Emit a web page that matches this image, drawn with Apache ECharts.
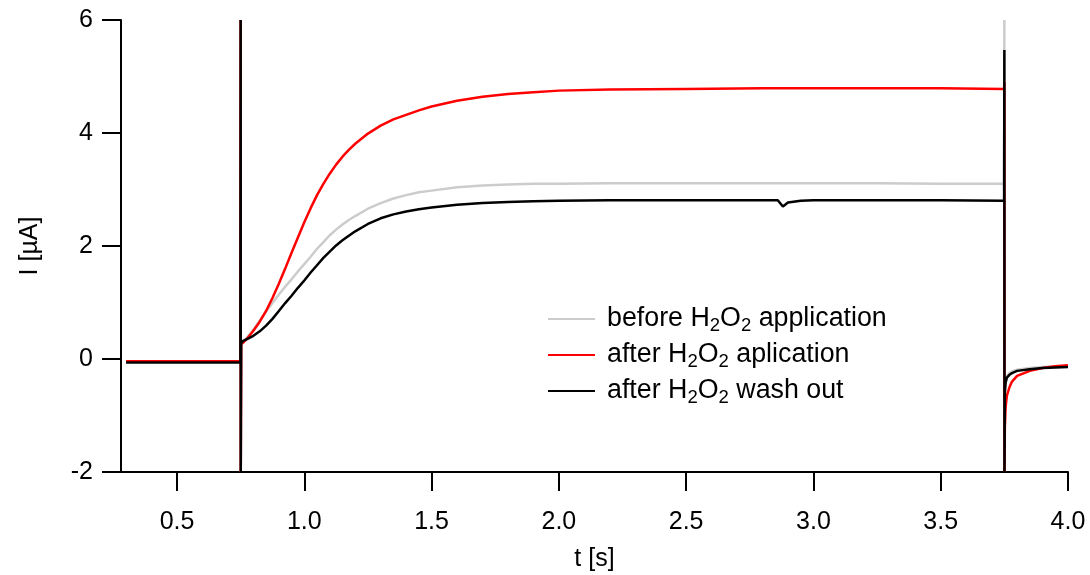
<!DOCTYPE html>
<html>
<head>
<meta charset="utf-8">
<script src="https://cdn.jsdelivr.net/npm/echarts@6/dist/echarts.min.js"></script>
<style>
html,body{margin:0;padding:0;background:#fff;}
#chart{width:1090px;height:575px;}
</style>
</head>
<body>
<div id="chart"></div>
<script>
// time points [s]
var timeS = [0.30, 0.40, 0.50, 0.60, 0.70, 0.749, 0.750, 0.7505, 0.752,
  0.76, 0.775, 0.80, 0.825, 0.85, 0.875, 0.90, 0.925, 0.95, 0.975, 1.00,
  1.025, 1.05, 1.075, 1.10, 1.125, 1.15, 1.175, 1.20,
  1.25, 1.30, 1.35, 1.40, 1.45, 1.50,
  1.60, 1.70, 1.80, 1.90, 2.00,
  2.20, 2.50, 2.80, 2.86, 2.88, 2.90, 2.95, 3.00,
  3.25, 3.50, 3.749, 3.750, 3.7505,
  3.752, 3.755, 3.76, 3.77, 3.78, 3.80,
  3.85, 3.90, 3.95, 4.00];
// current [µA]
var beforeI = [-0.05, -0.05, -0.05, -0.05, -0.05, -0.05, 6.0, -2.0, 0.28,
  0.31, 0.38, 0.52, 0.68, 0.84, 0.99, 1.14, 1.28, 1.41, 1.55, 1.68,
  1.81, 1.95, 2.07, 2.19, 2.29, 2.38, 2.46, 2.53,
  2.66, 2.76, 2.84, 2.90, 2.95, 2.98,
  3.04, 3.07, 3.09, 3.10, 3.10,
  3.11, 3.11, 3.11, 3.11, 3.11, 3.11, 3.11, 3.11,
  3.11, 3.10, 3.10, 6.0, -2.0,
  -0.50, -0.38, -0.30, -0.25, -0.22, -0.19,
  -0.16, -0.14, -0.13, -0.12];
var afterI = [-0.04, -0.04, -0.04, -0.04, -0.04, -0.04, 6.0, -2.0, 0.26,
  0.29, 0.36, 0.50, 0.66, 0.85, 1.08, 1.33, 1.60, 1.88, 2.15, 2.42,
  2.67, 2.90, 3.10, 3.28, 3.44, 3.58, 3.70, 3.81,
  3.99, 4.13, 4.24, 4.32, 4.40, 4.47,
  4.57, 4.64, 4.69, 4.72, 4.75,
  4.77, 4.78, 4.79, 4.79, 4.79, 4.79, 4.79, 4.79,
  4.79, 4.79, 4.78, 4.90, -2.0,
  -1.20, -0.85, -0.65, -0.50, -0.40, -0.30,
  -0.21, -0.16, -0.13, -0.11];
var washI = [-0.06, -0.06, -0.06, -0.06, -0.06, -0.06, 6.0, -2.0, 0.28,
  0.32, 0.35, 0.41, 0.49, 0.59, 0.71, 0.85, 0.99, 1.12, 1.26, 1.39,
  1.53, 1.66, 1.79, 1.90, 2.01, 2.10, 2.18, 2.26,
  2.39, 2.49, 2.56, 2.61, 2.65, 2.68,
  2.73, 2.76, 2.78, 2.79, 2.80,
  2.81, 2.81, 2.81, 2.81, 2.70, 2.77, 2.80, 2.81,
  2.81, 2.81, 2.80, 5.47, -2.0,
  -0.60, -0.42, -0.33, -0.28, -0.25, -0.21,
  -0.18, -0.16, -0.15, -0.14];
var seriesNames = ['before H2O2 application', 'after H2O2 aplication', 'after H2O2 wash out'];
var seriesColors = ['#cccccc', '#ff0000', '#000000'];
var xTicks = [0.5, 1.0, 1.5, 2.0, 2.5, 3.0, 3.5, 4.0];

function pairs(t, v) { return t.map(function (x, i) { return [x, v[i]]; }); }
var allValues = [beforeI, afterI, washI];

var chart = echarts.init(document.getElementById('chart'), null, { renderer: 'canvas' });
var FONT = 'Liberation Sans';
var FS = 25;
var axisCommon = {
  axisLine: { show: true, onZero: false, lineStyle: { color: '#000', width: 2 } },
  axisTick: { show: true, inside: false, length: 19, lineStyle: { color: '#000', width: 2 } },
  splitLine: { show: false },
  nameTextStyle: { fontFamily: FONT, fontSize: FS, color: '#000' }
};

var option = {
  animation: false,
  backgroundColor: '#ffffff',
  grid: { left: 121, right: 22, top: 20, bottom: 103, containLabel: false, outerBoundsMode: 'none' },
  legend: {
    orient: 'vertical',
    left: 543,
    top: 298,
    icon: 'rect',
    itemWidth: 47,
    itemHeight: 2,
    itemGap: 4,
    selectedMode: false,
    data: seriesNames,
    formatter: function (name) {
      var parts = name.split('H2O2');
      return '{g|}{n|' + parts[0] + 'H}{s|2}{n|O}{s|2}{n|' + parts[1] + '}';
    },
    textStyle: {
      fontFamily: FONT,
      color: '#000',
      rich: {
        g: { width: 7 },
        n: { fontFamily: FONT, fontSize: 26.8, lineHeight: 30, color: '#000' },
        s: { fontFamily: FONT, fontSize: 18.5, lineHeight: 18, padding: [13, 0, 0, 0], color: '#000' }
      }
    }
  },
  xAxis: Object.assign({}, axisCommon, {
    type: 'value',
    min: 0.28,
    max: 4.0,
    name: 't [s]',
    nameLocation: 'middle',
    nameGap: 75,
    axisTick: Object.assign({}, axisCommon.axisTick, { customValues: xTicks }),
    axisLabel: {
      customValues: xTicks,
      fontFamily: FONT, fontSize: FS, color: '#000', margin: 38,
      formatter: function (v) { return v.toFixed(1); }
    }
  }),
  yAxis: Object.assign({}, axisCommon, {
    type: 'value',
    min: -2,
    max: 6,
    interval: 2,
    name: 'I [µA]',
    nameLocation: 'middle',
    nameGap: 78,
    axisLabel: { fontFamily: FONT, fontSize: FS, color: '#000', margin: 28 }
  }),
  series: seriesNames.map(function (n, k) {
    return {
      name: n,
      type: 'line',
      symbol: 'none',
      showSymbol: false,
      clip: true,
      lineStyle: { color: seriesColors[k], width: 2.5 },
      itemStyle: { color: seriesColors[k] },
      z: 2 + k,
      data: pairs(timeS, allValues[k])
    };
  })
};
chart.setOption(option);
</script>
</body>
</html>
